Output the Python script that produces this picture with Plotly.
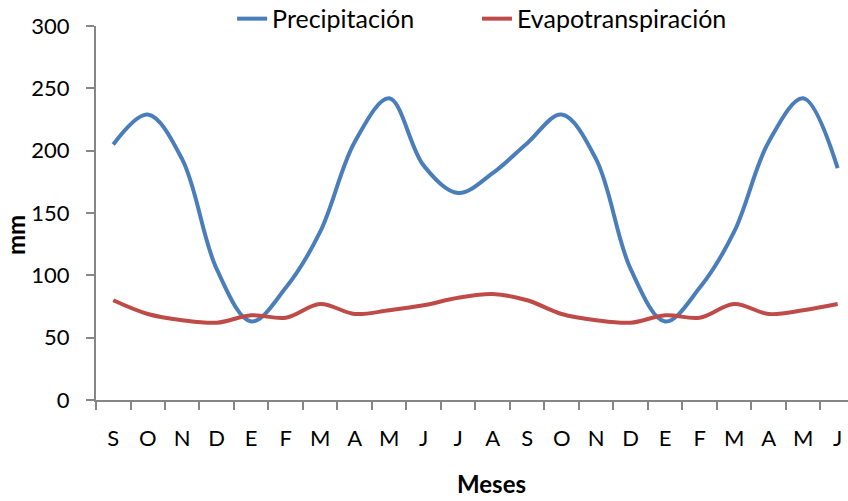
import plotly.graph_objects as go

meses = ["S", "O", "N", "D", "E", "F", "M", "A", "M", "J", "J",
         "A", "S", "O", "N", "D", "E", "F", "M", "A", "M", "J"]
precipitacion = [205, 229, 193, 105, 63, 90, 135, 207, 242, 188, 166,
                 182, 206, 229, 193, 105, 63, 90, 135, 207, 242, 186]
evapotranspiracion = [80, 69, 64, 62, 68, 66, 77, 69, 72, 76, 82,
                      85, 80, 69, 64, 62, 68, 66, 77, 69, 72, 77]

x = list(range(len(meses)))
FONT = "Lato"
AXIS = "#868686"

fig = go.Figure()
fig.add_trace(go.Scatter(x=x, y=precipitacion, name="Precipitación", mode="lines",
                         legend="legend",
                         line=dict(color="#4A7EBB", width=4, shape="spline", smoothing=1.0)))
fig.add_trace(go.Scatter(x=x, y=evapotranspiracion, name="Evapotranspiración", mode="lines",
                         legend="legend2",
                         line=dict(color="#BE4B48", width=4, shape="spline", smoothing=1.0)))

leg_common = dict(orientation="h", y=1.019, yanchor="middle", xanchor="left",
                  font=dict(family=FONT, size=25), bgcolor="rgba(0,0,0,0)")

fig.update_layout(
    width=848, height=501,
    margin=dict(l=96, r=0, t=26, b=101, autoexpand=False),
    paper_bgcolor="white", plot_bgcolor="white",
    font=dict(family=FONT, size=22, color="black"),
    showlegend=True,
    legend=dict(x=0.181, **leg_common),
    legend2=dict(x=0.5066, **leg_common),
    xaxis=dict(range=[-0.5, 21.3], tickmode="array", tickvals=x, ticktext=meses,
               showgrid=False, zeroline=False, showline=True, linecolor=AXIS, linewidth=2,
               ticks="", ticklabelstandoff=18,
               tickfont=dict(family=FONT, size=22),
               minor=dict(tickmode="linear", tick0=-0.5, dtick=1, ticks="outside",
                          ticklen=8, tickcolor=AXIS, tickwidth=2, showgrid=False)),
    yaxis=dict(range=[0, 300], tickmode="linear", tick0=0, dtick=50,
               showgrid=False, zeroline=False, showline=True, linecolor=AXIS, linewidth=2,
               ticks="outside", ticklen=8, tickcolor=AXIS, tickwidth=2,
               ticklabelstandoff=12, tickfont=dict(family=FONT, size=22)),
    annotations=[
        dict(text="<b>mm</b>", xref="paper", yref="paper", x=-0.107, y=0.44,
             xanchor="center", yanchor="middle", textangle=-90, showarrow=False,
             font=dict(family=FONT, size=24)),
        dict(text="<b>Meses</b>", xref="paper", yref="paper", x=0.526, y=-0.222,
             xanchor="center", yanchor="middle", showarrow=False,
             font=dict(family=FONT, size=24)),
    ],
)

fig.write_html("out.html")
